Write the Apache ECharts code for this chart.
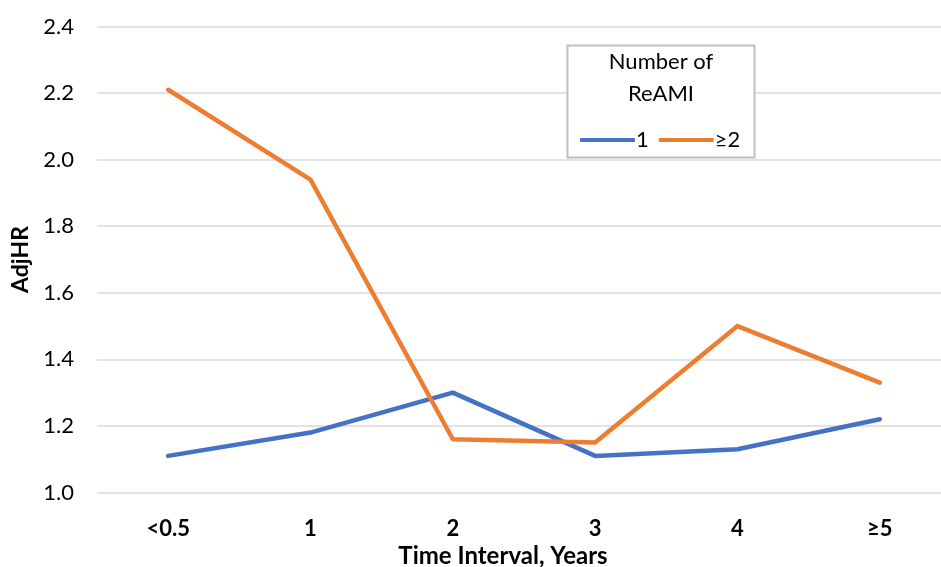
<!DOCTYPE html>
<html>
<head>
<meta charset="utf-8">
<script src="https://cdn.jsdelivr.net/npm/echarts@6/dist/echarts.min.js"></script>
<style>html,body{margin:0;padding:0;background:#fff}#c{width:941px;height:567px}</style>
</head>
<body>
<div id="c"></div>
<script>
const categories = ['<0.5', '1', '2', '3', '4', '≥5'];
const series1 = [1.11, 1.18, 1.30, 1.11, 1.13, 1.22];
const series2 = [2.21, 1.94, 1.16, 1.15, 1.50, 1.33];
const seriesNames = ['1', '≥2'];
const yTicks = [1.0, 1.2, 1.4, 1.6, 1.8, 2.0, 2.2, 2.4];
const legendTitle = 'Number of\nReAMI';
const xTitle = 'Time Interval, Years';
const yTitle = 'AdjHR';

const FONT = 'Lato';
const chart = echarts.init(document.getElementById('c'), null, {renderer: 'canvas'});
chart.setOption({
  animation: false,
  backgroundColor: '#fff',
  textStyle: {fontFamily: FONT},
  grid: {left: 97, right: -10, top: 26.5, bottom: 74.5, containLabel: false, outerBoundsMode: 'none'},
  xAxis: {
    type: 'category',
    data: categories,
    boundaryGap: true,
    axisLine: {show: false},
    axisTick: {show: false},
    axisLabel: {color: '#000', fontSize: 22, fontWeight: 'bold', fontFamily: FONT, margin: 25},
    name: xTitle,
    nameLocation: 'middle',
    nameGap: 50,
    nameTextStyle: {color: '#000', fontSize: 24, fontWeight: 'bold', fontFamily: FONT, padding: [0, 42, 0, 0]}
  },
  yAxis: {
    type: 'value',
    min: yTicks[0],
    max: yTicks[yTicks.length - 1],
    interval: 0.2,
    axisLine: {show: false},
    axisTick: {show: false},
    splitLine: {lineStyle: {color: '#d9d9d9', width: 1.5}},
    axisLabel: {color: '#000', fontSize: 22, fontFamily: FONT, margin: 23, formatter: v => v.toFixed(1)},
    name: yTitle,
    nameLocation: 'middle',
    nameGap: 60,
    nameRotate: 90,
    nameTextStyle: {color: '#000', fontSize: 23, fontWeight: 'bold', fontFamily: FONT}
  },
  legend: {
    left: 575,
    top: 124,
    z: 10,
    itemWidth: 55,
    itemHeight: 4,
    itemGap: 10,
    icon: 'roundRect',
    textStyle: {color: '#000', fontSize: 22, fontFamily: FONT, padding: [0, 0, 0, -4]},
    data: seriesNames
  },
  graphic: [
    {type: 'rect', shape: {x: 567.5, y: 45.5, width: 187, height: 112}, style: {fill: '#fff', stroke: '#bfbfbf', lineWidth: 2}, z: 1},
    {type: 'text', x: 661, y: 46, style: {text: legendTitle, fill: '#000', font: '22px ' + FONT, textAlign: 'center', textVerticalAlign: 'top', lineHeight: 32}, z: 2}
  ],
  series: [
    {name: seriesNames[0], type: 'line', data: series1, symbol: 'none', lineStyle: {color: '#4472C4', width: 4.5, cap: 'round', join: 'round'}, itemStyle: {color: '#4472C4'}, z: 3},
    {name: seriesNames[1], type: 'line', data: series2, symbol: 'none', lineStyle: {color: '#ED7D31', width: 4.5, cap: 'round', join: 'round'}, itemStyle: {color: '#ED7D31'}, z: 3}
  ]
});
</script>
</body>
</html>
